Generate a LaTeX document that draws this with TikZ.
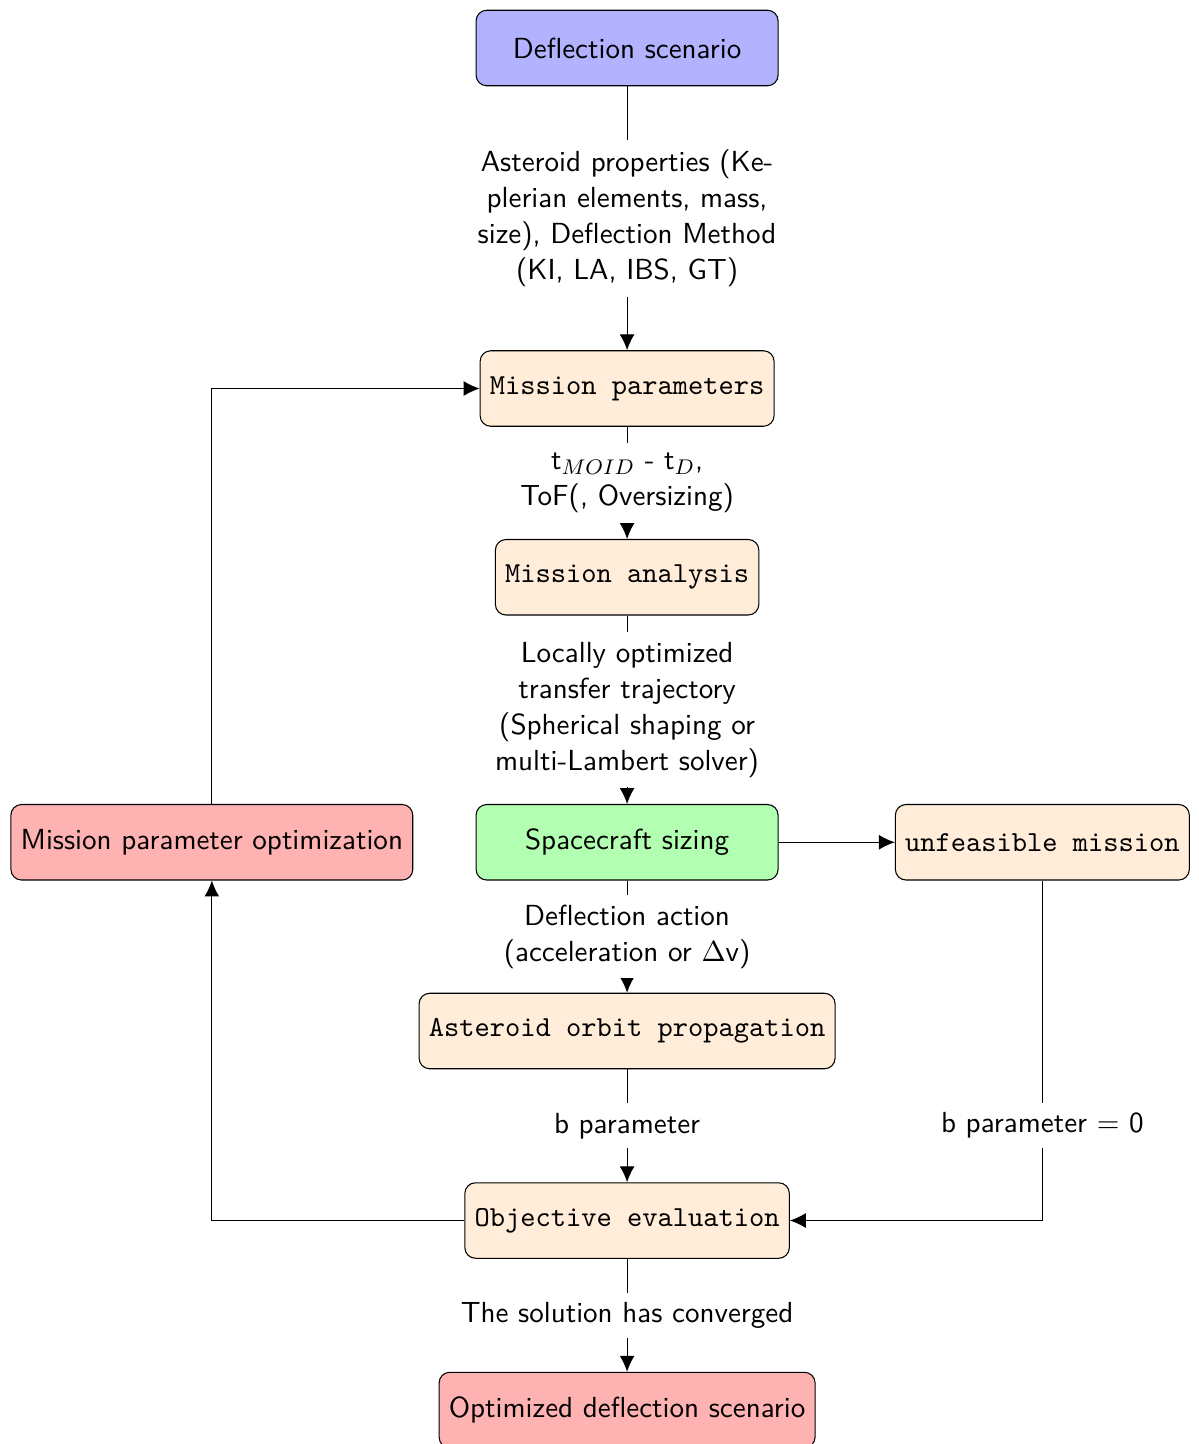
\documentclass[tikz,border=0pt,11pt]{standalone}
\usepackage{amsmath}
\usepackage{tikz}
\usetikzlibrary{calc,arrows.meta}
\usetikzlibrary{positioning}

\begin{document}
\begin{tikzpicture}[
    font=\sffamily,
    block/.style={rectangle, draw, rounded corners, minimum height=1cm},
    main block/.style={block, minimum width=4cm, fill=#1},
    code block/.style={block, fill=orange!15, font=\ttfamily},
    edge text/.style={fill=white, align=center},
    arrow/.style={-{Latex[length=6pt, width=5.6pt]}}
]

% SAME BOUNDING BOX
\path[use as bounding box] (-8.306,0.636) rectangle (7.564,-18.49);

\node[main block=blue!30] (scenario) at (0, 0) {Deflection scenario};
\node[code block] (params) at (0, -4.51) {Mission parameters};
\node[code block] (analysis) at (0, -7.01) {Mission analysis};
\node[main block=green!30] (sizing) at (0, -10.52) {Spacecraft sizing};
\node[main block=red!30] (optim) at (-5.5, -10.52) {Mission parameter optimization};
\node[code block] (unfeasible) at (5.5, -10.52) {unfeasible mission};
\node[code block] (propagation) at (0, -13.02) {Asteroid orbit propagation};
\node[code block] (objective) at (0, -15.53) {Objective evaluation};
\node[main block=red!30] (result) at (0, -18.04) {Optimized deflection scenario};

% main chain
\draw[arrow] (scenario) -- node[edge text] {Asteroid properties (Ke-\\plerian elements, mass,\\size), Deflection Method\\(KI, LA, IBS, GT)} (params);
\draw[arrow] (params) -- node[edge text] {t$_{MOID}$ - t$_D$,\\ToF(, Oversizing)} (analysis);
\draw[arrow] (analysis) -- node[edge text] {Locally optimized\\transfer trajectory\\(Spherical shaping or\\multi-Lambert solver)} (sizing);
\draw[arrow] (sizing) -- node[edge text] {Deflection action\\(acceleration or $\Delta$v)} (propagation);
\draw[arrow] (propagation) -- node[edge text] {b parameter} (objective);
\draw[arrow] (objective) -- node[edge text] {The solution has converged} (result);

% side branches
\draw[arrow] (sizing) -- (unfeasible);
\draw[arrow] (unfeasible) |- node[edge text, pos=0.36] {b parameter $=$ 0} (objective);
\draw[arrow] (objective) -| (optim);
\draw[arrow] (optim) |- (params);

\end{tikzpicture}
\end{document}
